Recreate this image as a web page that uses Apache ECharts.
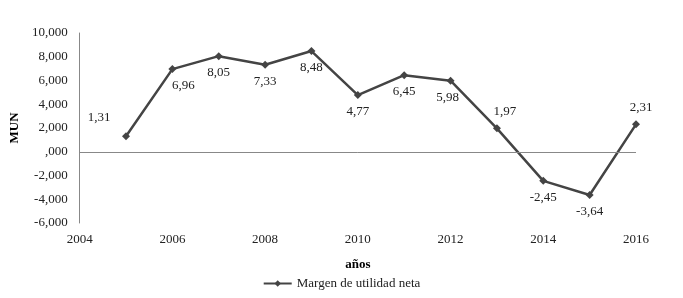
<!DOCTYPE html>
<html>
<head>
<meta charset="utf-8">
<script src="https://cdn.jsdelivr.net/npm/echarts@6/dist/echarts.min.js"></script>
<style>
  html, body { margin: 0; padding: 0; background: #fff; }
  #chart { width: 683px; height: 298px; }
</style>
</head>
<body>
<div id="chart"></div>
<script>
const years = [2005, 2006, 2007, 2008, 2009, 2010, 2011, 2012, 2013, 2014, 2015, 2016];
const margen = [1.31, 6.96, 8.05, 7.33, 8.48, 4.77, 6.45, 5.98, 1.97, -2.45, -3.64, 2.31];
const seriesName = 'Margen de utilidad neta';

const chart = echarts.init(document.getElementById('chart'));

// label placement per year (most sit below the point)
const labelPlace = {
  2005: { position: 'top', offset: [-27, -2] },
  2006: { position: 'bottom', offset: [11, 0] },
  2012: { position: 'bottom', offset: [-3, 0] },
  2013: { position: 'top', offset: [8, 0] },
  2016: { position: 'top', offset: [5, 0] }
};

const fmtComma = (v, d) => {
  let s = v.toFixed(d).replace('.', ',');
  if (v === 0) s = s.replace(/^0/, '');
  return s;
};

const font = 'Liberation Serif';

const option = {
  backgroundColor: '#fff',
  animation: false,
  grid: { left: 78, right: 47, top: 33, bottom: 75 },
  xAxis: {
    type: 'value',
    min: 2004,
    max: 2016,
    interval: 2,
    name: 'años',
    nameLocation: 'middle',
    nameGap: 35,
    nameTextStyle: { fontFamily: font, fontWeight: 'bold', fontSize: 13, color: '#000' },
    axisLine: { show: false },
    axisTick: { show: false },
    splitLine: { show: false },
    axisLabel: { fontFamily: font, fontSize: 13, color: '#222', margin: 10, formatter: v => String(v) }
  },
  yAxis: {
    type: 'value',
    min: -6,
    max: 10,
    interval: 2,
    name: 'MUN',
    nameLocation: 'middle',
    nameGap: 52,
    nameTextStyle: { fontFamily: font, fontWeight: 'bold', fontSize: 13, color: '#000' },
    axisLine: { show: true, lineStyle: { color: '#888', width: 1 } },
    axisTick: { show: false },
    splitLine: { show: false },
    axisLabel: {
      fontFamily: font, fontSize: 13, color: '#222', margin: 12,
      formatter: v => fmtComma(v, 3)
    }
  },
  legend: {
    bottom: 3,
    left: 'center',
    itemWidth: 28,
    itemHeight: 8,
    itemGap: 10,
    textStyle: { fontFamily: font, fontSize: 13, color: '#222' },
    data: [seriesName]
  },
  series: [{
    name: seriesName,
    type: 'line',
    symbol: 'diamond',
    symbolSize: 8,
    lineStyle: { color: '#444', width: 2.5 },
    itemStyle: { color: '#444' },
    label: {
      show: true,
      position: 'bottom',
      distance: 6,
      fontFamily: font,
      fontSize: 13,
      color: '#222',
      formatter: p => fmtComma(p.value[1], 2)
    },
    markLine: {
      silent: true,
      symbol: 'none',
      label: { show: false },
      lineStyle: { color: '#888', width: 1, type: 'solid' },
      data: [{ yAxis: 0 }]
    },
    data: years.map((y, i) => {
      const item = { value: [y, margen[i]] };
      if (labelPlace[y]) item.label = labelPlace[y];
      return item;
    })
  }]
};

chart.setOption(option);
</script>
</body>
</html>
